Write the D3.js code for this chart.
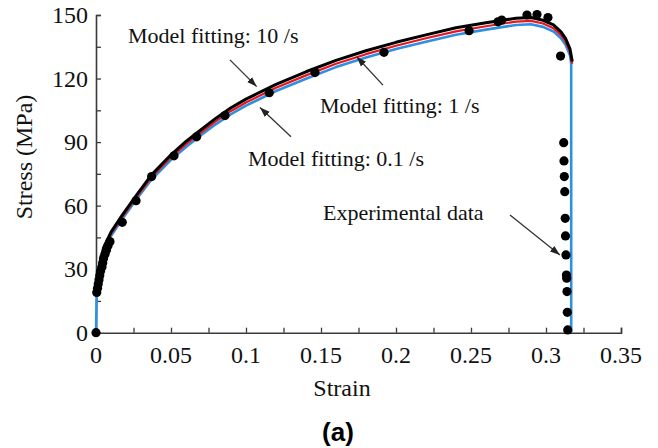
<!DOCTYPE html>
<html><head><meta charset="utf-8">
<script src="https://cdn.jsdelivr.net/npm/d3@7"></script>
<style>
html,body{margin:0;padding:0;background:#fff;}
svg{display:block;}
</style></head>
<body>
<svg id="chart" width="658" height="448"></svg>
<script>
// ---- data ----
const xTicks = [0, 0.05, 0.1, 0.15, 0.2, 0.25, 0.3, 0.35];
const xTickLabels = ["0", "0.05", "0.1", "0.15", "0.2", "0.25", "0.3", "0.35"];
const xMinorTicks = [0.025, 0.075, 0.125, 0.175, 0.225, 0.275, 0.325];
const yTicks = [0, 30, 60, 90, 120, 150];
const yTickLabels = ["0", "30", "60", "90", "120", "150"];
const yMinorTicks = [15, 45, 75, 105, 135];

// Model fitting curves (strain, stress MPa)
const fit10Strain = [0.0004, 0.002, 0.005, 0.01, 0.0175, 0.027, 0.037, 0.05, 0.06, 0.07, 0.08, 0.09, 0.1, 0.12, 0.14, 0.16, 0.18, 0.2, 0.22, 0.24, 0.26, 0.28, 0.29, 0.298, 0.305, 0.31, 0.313, 0.316, 0.3175];
const fit10Stress = [22, 31, 40, 47.5, 55.5, 65, 74.5, 84, 90.3, 95.8, 101.3, 106.2, 110.3, 117.2, 123.2, 128.6, 133.1, 137.1, 140.6, 144, 146.3, 148.5, 148.8, 147.5, 145.3, 142, 139, 134, 128];
const fit1Strain = [0.0004, 0.002, 0.005, 0.01, 0.0175, 0.027, 0.037, 0.05, 0.06, 0.07, 0.08, 0.09, 0.1, 0.12, 0.14, 0.16, 0.18, 0.2, 0.22, 0.24, 0.26, 0.28, 0.29, 0.298, 0.305, 0.31, 0.313, 0.316, 0.3175];
const fit1Stress = [21.5, 30.2, 39.2, 46.6, 54.6, 64, 73.4, 82.8, 89, 94.5, 99.9, 104.7, 108.7, 115.6, 121.5, 127, 131.5, 135.5, 139, 142.3, 144.7, 146.9, 147.2, 146, 143.8, 140.5, 137.5, 132.5, 127];
const fit01Strain = [0, 0.0005, 0.002, 0.005, 0.01, 0.0175, 0.027, 0.037, 0.05, 0.06, 0.07, 0.08, 0.09, 0.1, 0.12, 0.14, 0.16, 0.18, 0.2, 0.22, 0.24, 0.26, 0.28, 0.29, 0.298, 0.305, 0.31, 0.313, 0.316, 0.3168, 0.3168];
const fit01Stress = [0, 18.6, 29.4, 38.4, 45.7, 53.7, 63, 72.3, 81.6, 87.7, 93.2, 98.5, 103.2, 107.2, 114.1, 119.9, 125.4, 129.9, 133.9, 137.4, 140.7, 143.1, 145.3, 145.6, 144.4, 142.2, 139, 136, 131, 127, 0];

// Experimental data
const expStrain = [0, 0.0005, 0.001, 0.0015, 0.002, 0.0025, 0.003, 0.004, 0.0045, 0.005, 0.006, 0.007, 0.008, 0.0093, 0.0175, 0.0267, 0.0371, 0.052, 0.0671, 0.086, 0.1155, 0.146, 0.192, 0.2487, 0.268, 0.2705, 0.2873, 0.294, 0.3013, 0.3097,
  0.3118, 0.312, 0.3122, 0.3125, 0.3128, 0.313, 0.3133, 0.3136, 0.3138, 0.314, 0.3142, 0.3145];
const expStress = [0, 19, 21, 23, 25, 27, 29, 31, 33, 35, 37, 39, 41, 43, 52.1, 62.3, 73.7, 83.5, 92.5, 102.5, 113.3, 122.8, 132.4, 142.6, 146.8, 147.6, 150, 150.2, 148.8, 130.6,
  89.7, 81.1, 73.7, 66.6, 54, 45.7, 36.7, 27.2, 25.7, 19.4, 9.6, 1.3];

// Annotations (data units)
const annTexts = ["Model fitting: 10 /s", "Model fitting: 1 /s", "Model fitting: 0.1 /s", "Experimental data"];
const annTextX = [0.0213, 0.1493, 0.1013, 0.1513];
const annTextY = [136.8, 103.7, 78.7, 53.2];
const arrowFromX = [0.0893, 0.1913, 0.13, 0.276];
const arrowFromY = [128.8, 116.9, 92.5, 55.6];
const arrowToX = [0.1071, 0.1738, 0.1093, 0.3093];
const arrowToY = [116.2, 130.3, 106.3, 36.7];

// ---- drawing ----
const svg = d3.select("#chart");
const x = d3.scaleLinear().domain([0, 0.35]).range([96, 621]);
const y = d3.scaleLinear().domain([0, 150]).range([332.7, 15]);
const serif = "'Liberation Serif','Times New Roman',serif";
const axisColor = "#3a3a3a";

// axes
const xAxis = d3.axisBottom(x).tickValues(xTicks.concat(xMinorTicks)).tickSize(-5).tickFormat("");
const gx = svg.append("g").attr("transform", `translate(0,${y(0)})`).call(xAxis);
const yAxis = d3.axisLeft(y).tickValues(yTicks.concat(yMinorTicks)).tickSize(-5).tickFormat("");
const gy = svg.append("g").attr("transform", `translate(${x(0)},0)`).call(yAxis);
[gx, gy].forEach(g => {
  g.select(".domain").attr("stroke", axisColor).attr("stroke-width", 1.6);
  g.selectAll(".tick line").attr("stroke", axisColor).attr("stroke-width", 1.3);
});

// tick labels
svg.append("g").selectAll("text").data(xTicks).join("text")
  .attr("x", d => x(d)).attr("y", 363)
  .attr("text-anchor", "middle")
  .attr("font-family", serif).attr("font-size", 24).attr("fill", "#111")
  .text((d, i) => xTickLabels[i]);
svg.append("g").selectAll("text").data(yTicks).join("text")
  .attr("x", 88).attr("y", d => y(d) + 8)
  .attr("text-anchor", "end")
  .attr("font-family", serif).attr("font-size", 24).attr("fill", "#111")
  .text((d, i) => yTickLabels[i]);

// axis titles
svg.append("text").attr("x", 342).attr("y", 396).attr("text-anchor", "middle")
  .attr("font-family", serif).attr("font-size", 24).attr("fill", "#111").text("Strain");
svg.append("text").attr("transform", "translate(32,157) rotate(-90)").attr("text-anchor", "middle")
  .attr("font-family", serif).attr("font-size", 24).attr("fill", "#111").text("Stress (MPa)");
svg.append("text").attr("x", 338).attr("y", 441).attr("text-anchor", "middle")
  .attr("font-family", "'Liberation Sans',Arial,sans-serif").attr("font-weight", "bold")
  .attr("font-size", 26).attr("fill", "#000").text("(a)");

// curves
const line = d3.line().x(d => x(d[0])).y(d => y(d[1]));
const series = [
  {xs: fit01Strain, ys: fit01Stress, color: "#2f8fe0", w: 2.6},
  {xs: fit1Strain, ys: fit1Stress, color: "#e8161e", w: 2.2},
  {xs: fit10Strain, ys: fit10Stress, color: "#000000", w: 3}
];
series.forEach(s => {
  svg.append("path").datum(s.xs.map((v, i) => [v, s.ys[i]]))
    .attr("d", line)
    .attr("fill", "none").attr("stroke", s.color)
    .attr("stroke-width", s.w).attr("stroke-linejoin", "round");
});

// experimental points
svg.append("g").selectAll("circle").data(expStrain.map((v, i) => [v, expStress[i]])).join("circle")
  .attr("cx", d => x(d[0])).attr("cy", d => y(d[1])).attr("r", 4.6).attr("fill", "#000");

// arrows
const defs = svg.append("defs");
defs.append("marker").attr("id", "ah").attr("viewBox", "0 0 10 10").attr("refX", 10).attr("refY", 5)
  .attr("markerWidth", 10).attr("markerHeight", 10).attr("markerUnits", "userSpaceOnUse").attr("orient", "auto")
  .append("path").attr("d", "M0,1.5 L10,5 L0,8.5 Z").attr("fill", "#222");
svg.append("g").selectAll("line").data(annTexts).join("line")
  .attr("x1", (d, i) => x(arrowFromX[i])).attr("y1", (d, i) => y(arrowFromY[i]))
  .attr("x2", (d, i) => x(arrowToX[i])).attr("y2", (d, i) => y(arrowToY[i]))
  .attr("stroke", "#333").attr("stroke-width", 1.3).attr("marker-end", "url(#ah)");

// annotation texts
svg.append("g").selectAll("text").data(annTexts).join("text")
  .attr("x", (d, i) => x(annTextX[i])).attr("y", (d, i) => y(annTextY[i]))
  .attr("font-family", serif).attr("font-size", 22).attr("fill", "#111")
  .text(d => d);
</script>
</body></html>
